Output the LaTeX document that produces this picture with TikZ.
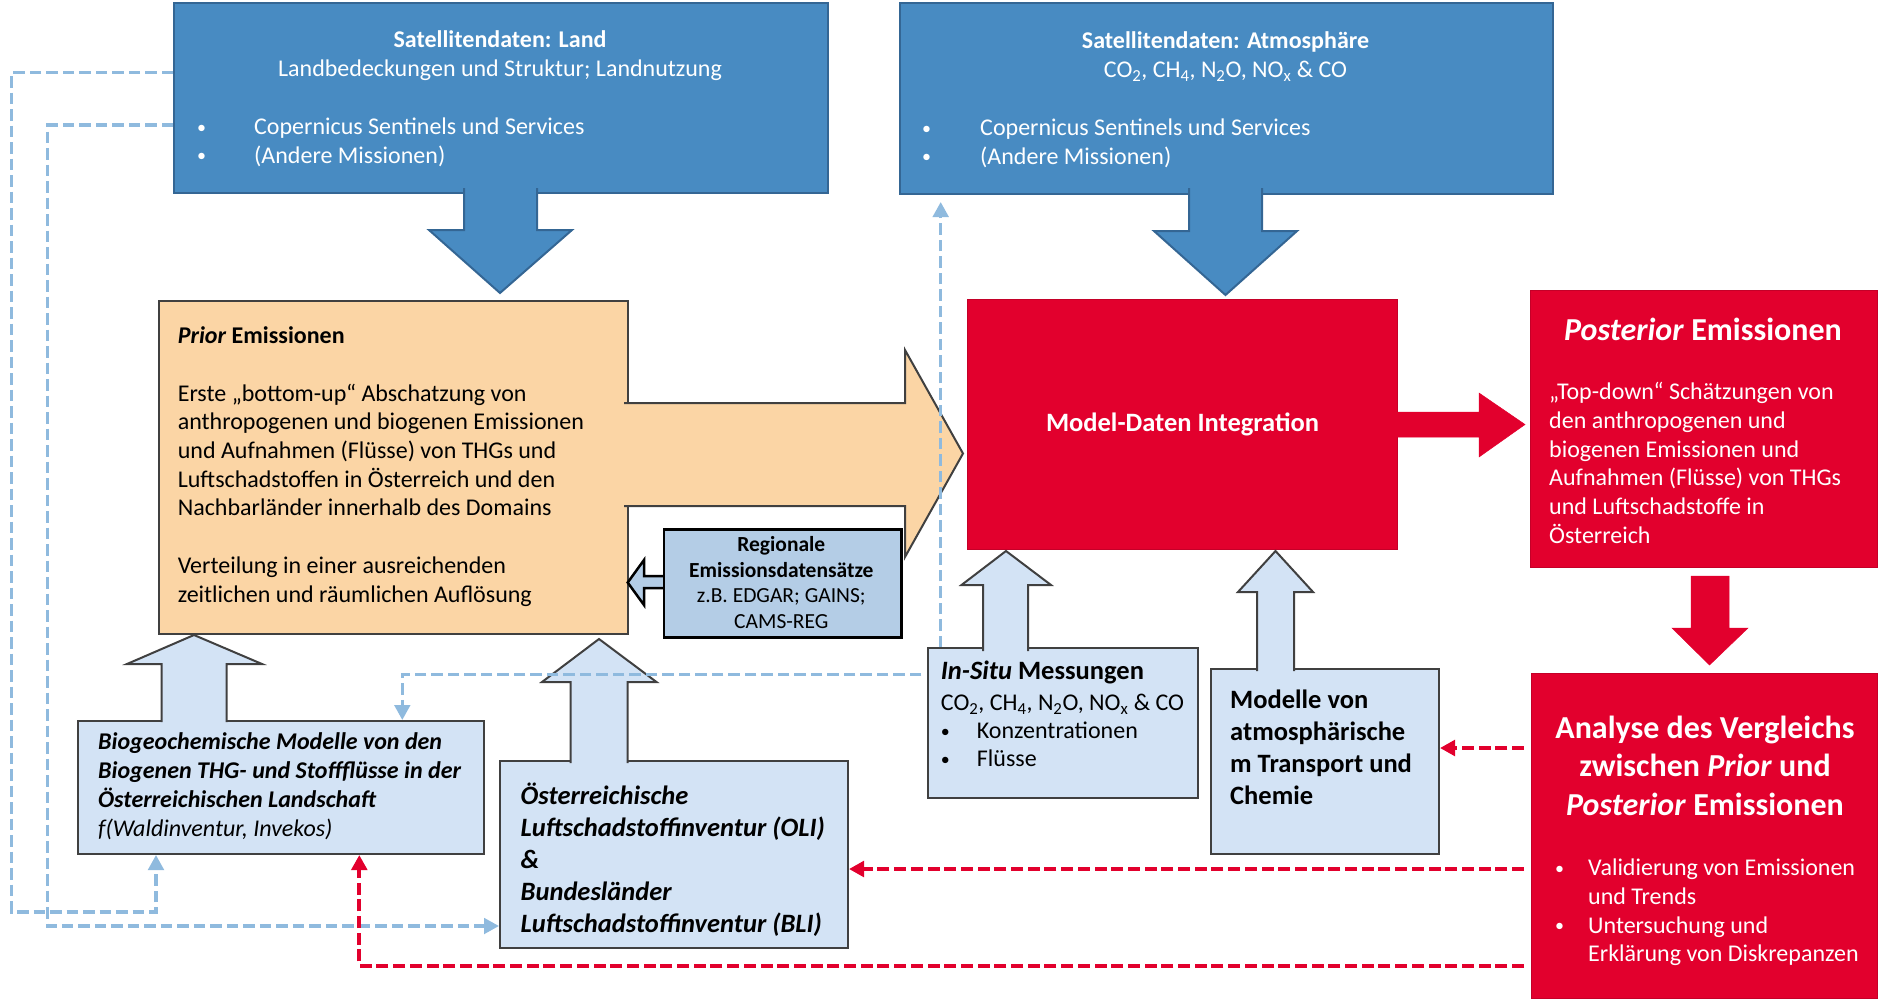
\documentclass[tikz,border=0pt]{standalone}
\usepackage{fontspec}
\setmainfont{Carlito}
\usetikzlibrary{arrows.meta}
\definecolor{satblue}{RGB}{72,139,194}
\definecolor{satborder}{RGB}{52,102,148}
\definecolor{peach}{RGB}{251,213,165}
\definecolor{boxgrey}{RGB}{64,64,64}
\definecolor{myred}{RGB}{226,0,45}
\definecolor{redborder}{RGB}{196,0,40}
\definecolor{lblue}{RGB}{211,227,245}
\definecolor{regblue}{RGB}{180,205,230}
\definecolor{dashblue}{RGB}{143,186,222}
\tikzset{
  box/.style={draw=boxgrey, line width=2pt, inner sep=0pt, anchor=north west},
  satbox/.style={box, draw=satborder, fill=satblue},
  priorbox/.style={box, fill=peach},
  redbox/.style={box, draw=redborder, line width=1pt, fill=myred},
  lbbox/.style={box, fill=lblue},
  regbox/.style={box, draw=black, line width=2.5pt, fill=regblue},
  txt/.style={inner sep=0pt, anchor=north west, align=left, font=\fontsize{24}{28.7}\selectfont},
  bigtxt/.style={font=\fontsize{26.5}{32}\selectfont\bfseries},
  arrowline/.style={line width=2pt, line join=miter},
  bdash/.style={draw=dashblue, line width=3.4pt, dash pattern=on 11.5pt off 5pt, -{Triangle[length=15pt,width=15.5pt]}},
  rdash/.style={draw=myred, line width=4.3pt, dash pattern=on 12pt off 4.7pt, -{Triangle[length=15pt,width=15.5pt]}},
}
\newcommand\blockarrow[3]{\fill[#1] #3 -- cycle; \draw[#2] #3;}
\newcommand\bul[1]{\makebox[#1][l]{\raisebox{1.5pt}{\fontsize{18}{18}\selectfont •}}}
\begin{document}
\begin{tikzpicture}[x=1pt,y=-1pt]
\useasboundingbox (0,0) rectangle (1879,999);
% ---------- boxes ----------
\node[satbox, minimum width=654pt, minimum height=190pt] (sl) at (173,2) {};
\node[satbox, minimum width=653pt, minimum height=191pt] (sa) at (899,2) {};
\node[priorbox, minimum width=468.5pt, minimum height=333pt] (prior) at (158,300) {};
\node[redbox, minimum width=430pt, minimum height=250pt, text=white, font=\fontsize{26.5}{32}\selectfont\bfseries] (model) at (967,299) {Model-Daten Integration};
\node[redbox, minimum width=347pt, minimum height=277pt] (post) at (1530,290) {};
\node[redbox, minimum width=346pt, minimum height=325pt] (analyse) at (1531,673) {};
\node[lbbox, minimum width=405.5pt, minimum height=133pt] (bio) at (77,720) {};
\node[lbbox, minimum width=348pt, minimum height=187pt] (oli) at (499,760) {};
\node[lbbox, minimum width=269.5pt, minimum height=150pt] (insitu) at (927.3,647.3) {};
\node[lbbox, minimum width=228pt, minimum height=185pt] (modelle) at (1210,668) {};
% ---------- block arrows ----------
\blockarrow{satblue}{satborder, arrowline}{(464,188) -- (464,230) -- (429,230) -- (500,293) -- (572,230) -- (537,230) -- (537,188)}
\blockarrow{satblue}{satborder, arrowline}{(1189,188) -- (1189,231) -- (1154,231) -- (1225.5,295) -- (1297,231) -- (1262,231) -- (1262,188)}
\blockarrow{peach}{boxgrey, arrowline}{(624,403) -- (905,403) -- (905,350) -- (963,453.5) -- (905,557) -- (905,506) -- (624,506)}
\blockarrow{regblue}{black, line width=2.5pt, line join=miter}{(664,576) -- (644,576) -- (644,560) -- (627.7,582.5) -- (644,605) -- (644,588) -- (664,588)}
\node[regbox, minimum width=237.4pt, minimum height=108pt] (reg) at (662.6,528) {};
\blockarrow{myred}{myred, line width=0.5pt}{(1393,412) -- (1479,412) -- (1479,393) -- (1525,424.5) -- (1479,457) -- (1479,437) -- (1393,437)}
\blockarrow{myred}{myred, line width=0.5pt}{(1691,576) -- (1729,576) -- (1729,628) -- (1748,628) -- (1709.5,665) -- (1672,628) -- (1691,628) -- (1691,576)}
\blockarrow{lblue}{boxgrey, arrowline}{(161.7,722) -- (161.7,664) -- (127,664) -- (194,635) -- (262,664) -- (226.6,664) -- (226.6,722)}
\blockarrow{lblue}{boxgrey, arrowline}{(570.7,763) -- (570.7,682) -- (542,682) -- (599,639) -- (656.5,682) -- (627.7,682) -- (627.7,763)}
\blockarrow{lblue}{boxgrey, arrowline}{(983,651) -- (983,585) -- (961.5,585) -- (1006,551) -- (1051,585) -- (1028,585) -- (1028,651)}
\blockarrow{lblue}{boxgrey, arrowline}{(1257,671) -- (1257,592) -- (1238,592) -- (1275.5,551) -- (1313,592) -- (1294,592) -- (1294,671)}
% ---------- texts ----------
\node[txt, anchor=north, align=center, text=white] (slt) at (500,27.4) {\strut\textbf{Satellitendaten: Land}\\Landbedeckungen und Struktur; Landnutzung};
\node[txt, text=white] (slb) at (197,114.4) {\strut\bul{57pt}Copernicus Sentinels und Services\\\bul{57pt}(Andere Missionen)};
\node[txt, anchor=north, align=center, text=white] (sat) at (1225.5,28.4) {\strut\textbf{Satellitendaten: Atmosphäre}\\CO\textsubscript{2}, CH\textsubscript{4}, N\textsubscript{2}O, NO\textsubscript{x} \& CO};
\node[txt, text=white] (sab) at (922,115.4) {\strut\bul{58pt}Copernicus Sentinels und Services\\\bul{58pt}(Andere Missionen)};
\node[txt] (priort) at (177.6,323.4) {\strut\textbf{\textit{Prior} Emissionen}\\[28.7pt]Erste „bottom-up“ Abschatzung von\\anthropogenen und biogenen Emissionen\\und Aufnahmen (Flüsse) von THGs und\\Luftschadstoffen in Österreich und den\\Nachbarländer innerhalb des Domains\\[28.7pt]Verteilung in einer ausreichenden\\zeitlichen und räumlichen Auflösung};
\node[txt, anchor=north, align=center, font=\fontsize{21.5}{25.6}\selectfont] (regt) at (781.3,533.6) {\strut\textbf{Regionale}\\\textbf{Emissionsdatensätze}\\z.B. EDGAR; GAINS;\\CAMS-REG};
\node[inner sep=0pt, anchor=base, text=white, font=\fontsize{32}{38.5}\selectfont\bfseries] (postt) at (1703,340) {\textit{Posterior} Emissionen};
\node[txt, text=white] (postb) at (1549,379.4) {\strut„Top-down“ Schätzungen von\\den anthropogenen und\\biogenen Emissionen und\\Aufnahmen (Flüsse) von THGs\\und Luftschadstoffe in\\Österreich};
\node[txt, font=\fontsize{24}{29}\selectfont] (biot) at (98,729.2) {\strut\textbf{\textit{Biogeochemische Modelle von den}}\\\textbf{\textit{Biogenen THG- und Stoffflüsse in der}}\\\textbf{\textit{Österreichischen Landschaft}}\\\textit{f(Waldinventur, Invekos)}};
\node[txt, font=\fontsize{26.5}{32}\selectfont\bfseries\itshape] (olit) at (520.5,781.9) {\strut Österreichische\\Luftschadstoffinventur (OLI)\\\&\\Bundesländer\\Luftschadstoffinventur (BLI)};
\node[inner sep=0pt, anchor=base west, bigtxt] (ist) at (940.7,679.3) {\textit{In-Situ} Messungen};
\node[txt, font=\fontsize{24}{28}\selectfont] (isb) at (940.7,691.1) {\strut CO\textsubscript{2}, CH\textsubscript{4}, N\textsubscript{2}O, NO\textsubscript{x} \& CO\\\bul{36pt}Konzentrationen\\\bul{36pt}Flüsse};
\node[txt, bigtxt] (modt) at (1230,685.9) {\strut Modelle von\\atmosphärische\\m Transport und\\Chemie};
\node[txt, anchor=north, align=center, text=white, font=\fontsize{32}{38.5}\selectfont\bfseries] (ant) at (1705,711) {\strut Analyse des Vergleichs\\zwischen \textit{Prior} und\\\textit{Posterior} Emissionen};
\node[txt, text=white] (anb) at (1555,855.4) {\strut\bul{33pt}Validierung von Emissionen\\\hspace*{33pt}und Trends\\\bul{33pt}Untersuchung und\\\hspace*{33pt}Erklärung von Diskrepanzen};
% ---------- dashed connectors ----------
\draw[bdash] (sl.west |- 0,72.7) -| (11.5,912) -| (156,0 |- bio.south);
\draw[bdash] (sl.west |- 0,125) -| (47.7,926) -- (oli.west |- 0,926);
\draw[bdash, shorten <=6pt] (insitu.west |- 0,674.3) -| (402.3,0 |- bio.north);
\draw[bdash, shorten >=7pt] (940.7,0 |- insitu.north) -- (940.7,0 |- sa.south);
\draw[rdash, shorten <=7pt] (analyse.west |- 0,748) -- (modelle.east |- 0,748);
\draw[rdash, shorten <=7pt] (analyse.west |- 0,869) -- (oli.east |- 0,869);
\draw[rdash, shorten <=7pt] (analyse.west |- 0,965.7) -| (359.3,0 |- bio.south);
\end{tikzpicture}
\end{document}
